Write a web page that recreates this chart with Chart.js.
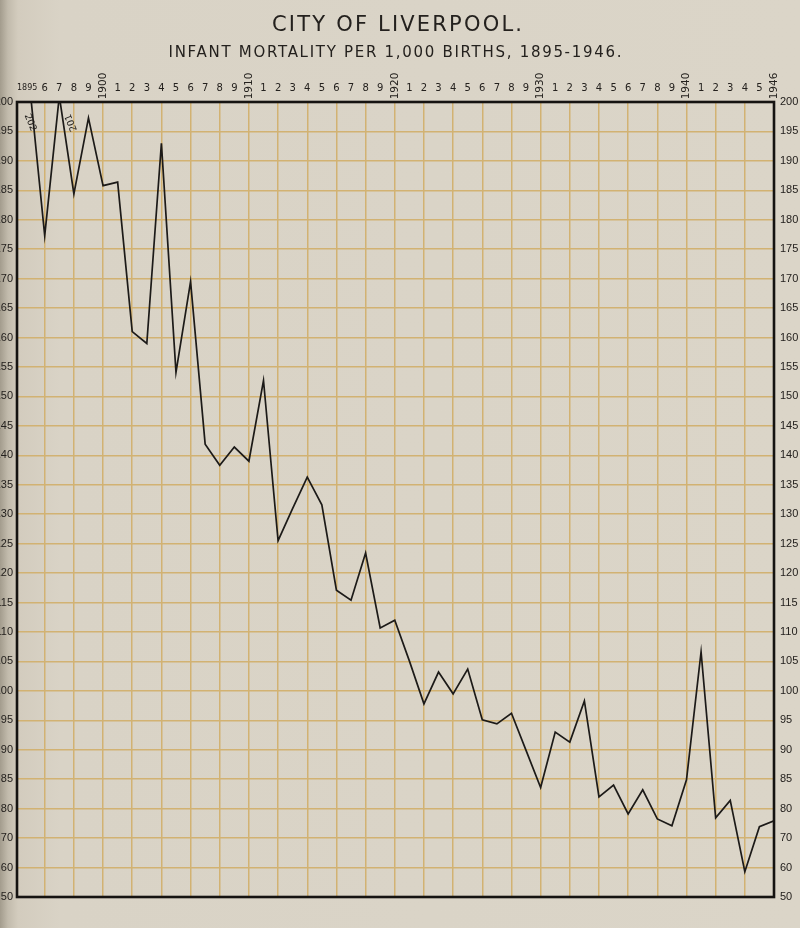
<!DOCTYPE html>
<html>
<head>
<meta charset="utf-8">
<script src="https://cdn.jsdelivr.net/npm/chart.js@4/dist/chart.umd.min.js"></script>
<style>
  html, body { margin: 0; padding: 0; }
  body {
    width: 800px; height: 928px; overflow: hidden; position: relative;
    background: linear-gradient(to right, #a39c8d 0px, #c2bbac 8px, #d3ccbe 18px, #d9d3c6 60px, #dbd5c8 100%);
  }
  #wrap { position: absolute; left: -20px; top: 0; width: 820px; height: 928px; }
</style>
</head>
<body>
<div id="wrap"><canvas id="chart"></canvas></div>
<script>
// infant deaths per 1,000 births, Liverpool
const years = [1895, 1896, 1897, 1898, 1899, 1900, 1901, 1902, 1903, 1904,
               1905, 1906, 1907, 1908, 1909, 1910, 1911, 1912, 1913, 1914,
               1915, 1916, 1917, 1918, 1919, 1920, 1921, 1922, 1923, 1924,
               1925, 1926, 1927, 1928, 1929, 1930, 1931, 1932, 1933, 1934,
               1935, 1936, 1937, 1938, 1939, 1940, 1941, 1942, 1943, 1944,
               1945, 1946];
const rates = [202, 177.3, 201, 184.4, 197.3, 185.8, 186.4, 161.0, 159.0, 193.0,
               154.1, 169.5, 141.9, 138.3, 141.4, 139.0, 152.7, 125.5, 131.0, 136.3,
               131.6, 117.1, 115.4, 123.4, 110.7, 112.0, 105.1, 97.8, 103.2, 99.5,
               103.7, 95.1, 94.4, 96.2, 89.9, 83.6, 93.0, 91.3, 98.3, 82.0,
               84.0, 78.2, 83.2, 76.5, 74.2, 84.9, 106.6, 76.9, 81.4, 58.6,
               73.9, 75.9];

// y tick labels as printed (below 80 the ruling goes in steps of 10)
const yTicks = [200, 195, 190, 185, 180, 175, 170, 165, 160, 155, 150, 145, 140,
                135, 130, 125, 120, 115, 110, 105, 100, 95, 90, 85, 80, 70, 60, 50];
// vertical rulings every second year
const gridYears = [1896, 1898, 1900, 1902, 1904, 1906, 1908, 1910, 1912, 1914,
                   1916, 1918, 1920, 1922, 1924, 1926, 1928, 1930, 1932, 1934,
                   1936, 1938, 1940, 1942, 1944];
const rotatedYears = [1900, 1910, 1920, 1930, 1940, 1946];
// values printed beside the peaks that run off the top
const offScaleNotes = [
  { year: 1895, text: '202', dx: 0, dy: 0, angle: 68 },
  { year: 1897, text: '201', dx: 12, dy: 0, angle: -112 }
];

// scale is compressed by half below 80
const squash = v => v >= 80 ? v : 80 - (80 - v) / 2;
const unsquash = v => v >= 80 ? v : 80 - (80 - v) * 2;

const INK = '#24211e';
const GRID = '#d2b272';

const labelsPlugin = {
  id: 'labelsPlugin',
  afterDraw(chart) {
    const { ctx, chartArea: { left, right, top, bottom }, scales: { x, y } } = chart;
    ctx.save();

    // heavy frame
    ctx.strokeStyle = '#151311';
    ctx.lineWidth = 2.6;
    ctx.strokeRect(left, top, right - left, bottom - top);

    // titles, stretched out like hand lettering
    const fitText = (str, font, cx, cy, width) => {
      ctx.font = font;
      ctx.letterSpacing = '0px';
      const w = ctx.measureText(str).width;
      const sp = (width - w) / (str.length - 1);
      ctx.letterSpacing = sp + 'px';
      ctx.textAlign = 'left';
      ctx.textBaseline = 'middle';
      ctx.fillText(str, cx - width / 2, cy);
      ctx.letterSpacing = '0px';
    };
    ctx.fillStyle = INK;
    fitText('CITY OF LIVERPOOL.', '21px "DejaVu Sans"', 417, 26, 250);
    fitText('INFANT MORTALITY PER 1,000 BIRTHS, 1895-1946.', '15px "DejaVu Sans"', 415, 53, 453);

    // year labels along the top
    years.forEach(yr => {
      const px = x.getPixelForValue(yr);
      ctx.fillStyle = INK;
      ctx.textAlign = 'center';
      ctx.textBaseline = 'middle';
      if (rotatedYears.includes(yr)) {
        ctx.save();
        ctx.translate(px, 86);
        ctx.rotate(-Math.PI / 2);
        ctx.font = '10.5px "DejaVu Sans"';
        ctx.fillText(String(yr), 0, 0);
        ctx.restore();
      } else if (yr === 1895) {
        ctx.font = '8px "DejaVu Sans"';
        ctx.fillText('1895', px - 3, 88);
      } else {
        ctx.font = '10px "DejaVu Sans"';
        ctx.fillText(String(yr % 10), px, 88);
      }
    });

    // off-scale values
    offScaleNotes.forEach(n => {
      ctx.save();
      ctx.translate(x.getPixelForValue(n.year) + n.dx, y.getPixelForValue(196.5) + n.dy);
      ctx.rotate(n.angle * Math.PI / 180);
      ctx.font = '9.5px "DejaVu Sans"';
      ctx.textAlign = 'center';
      ctx.textBaseline = 'middle';
      ctx.fillText(n.text, 0, 0);
      ctx.restore();
    });

    ctx.restore();
  }
};

const yTickOpts = {
  color: INK,
  font: { family: 'Liberation Sans', size: 11 },
  callback: v => unsquash(v)
};

new Chart(document.getElementById('chart'), {
  type: 'line',
  data: {
    datasets: [{
      label: 'Infant mortality',
      data: years.map((yr, i) => ({ x: yr, y: squash(rates[i]) })),
      borderColor: '#1c1a18',
      borderWidth: 1.7,
      pointRadius: 0,
      tension: 0,
      fill: false
    }]
  },
  options: {
    responsive: true,
    maintainAspectRatio: false,
    animation: false,
    layout: { padding: { top: 0, left: 0, right: 0, bottom: 31 } },
    plugins: {
      legend: { display: false },
      tooltip: { enabled: false }
    },
    scales: {
      x: {
        type: 'linear',
        position: 'top',
        min: 1894.1,
        max: 1946,
        afterBuildTicks: s => { s.ticks = gridYears.map(v => ({ value: v })); },
        afterFit: s => { s.height = 102; },
        ticks: { display: false },
        grid: { color: GRID, lineWidth: 1.5, drawTicks: false },
        border: { display: false }
      },
      y: {
        type: 'linear',
        position: 'left',
        min: squash(50),
        max: 200,
        afterBuildTicks: s => { s.ticks = yTicks.map(v => ({ value: squash(v) })); },
        afterFit: s => { s.width = 37; },
        ticks: Object.assign({ padding: 4 }, yTickOpts),
        grid: { color: GRID, lineWidth: 1.5, drawTicks: false },
        border: { display: false }
      },
      y2: {
        type: 'linear',
        position: 'right',
        display: true,
        min: squash(50),
        max: 200,
        afterBuildTicks: s => { s.ticks = yTicks.map(v => ({ value: squash(v) })); },
        afterFit: s => { s.width = 26; },
        ticks: Object.assign({ padding: 6 }, yTickOpts),
        grid: { display: false, drawTicks: false },
        border: { display: false }
      }
    }
  },
  plugins: [labelsPlugin]
});
</script>
</body>
</html>
